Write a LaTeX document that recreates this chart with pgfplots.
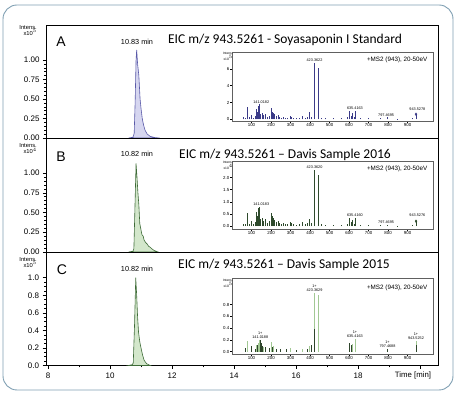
\documentclass[border=0pt]{standalone}
\usepackage{fontspec}
\setmainfont{Liberation Sans}
\newfontfamily\carlito{Carlito}
\usepackage{pgfplots}
\pgfplotsset{compat=1.18}
\definecolor{aline}{HTML}{5A5AA8}
\definecolor{afill}{HTML}{D6D6F0}
\definecolor{gline}{HTML}{3E6B38}
\definecolor{gfill}{HTML}{D3E7CB}
\definecolor{abar}{HTML}{3B3B88}
\definecolor{bbar}{HTML}{2E4A2C}
\definecolor{clight}{HTML}{A2C894}
\definecolor{cdark}{HTML}{2F452C}
\definecolor{bordercol}{HTML}{7F9FB2}
\newcommand{\ttl}{\carlito\fontsize{13.5}{15}\selectfont}
\tikzset{lbl/.style={font=\fontsize{3.8}{4.2}\selectfont, align=center, inner sep=0.5pt}}
\pgfplotsset{
  mainax/.style={scale only axis, width=392pt, anchor=south west,
    xmin=7.935, xmax=20.58, ymin=0,
    axis line style={line width=0.9pt},
    every tick/.style={black, line width=0.45pt},
    tick align=outside, ytick pos=left, xtick pos=bottom,
    major tick length=3pt, minor tick length=1.6pt,
    /pgf/number format/assume math mode=true,
    yticklabel style={font=\fontsize{8}{9}\selectfont},
    xticklabel style={font=\fontsize{8}{9}\selectfont},
  },
  inset/.style={scale only axis, width=201pt, anchor=south west,
    xmin=0, xmax=1030,
    axis background/.style={fill=white},
    axis line style={draw=gray!75!black, line width=0.6pt},
    every tick/.style={black, line width=0.35pt},
    tick align=outside, ytick pos=left, xtick pos=bottom,
    major tick length=1.6pt, minor tick length=0.9pt,
    xtick={100,200,...,900}, minor x tick num=4,
    /pgf/number format/assume math mode=true,
    yticklabel style={font=\fontsize{4.4}{5}\selectfont, inner sep=1pt},
    xticklabel style={font=\fontsize{4.4}{5}\selectfont, inner sep=1pt},
  },
}
\begin{document}
\begin{tikzpicture}[x=1pt,y=1pt]
\useasboundingbox (0,0) rectangle (459,395);
\draw[color=bordercol, line width=0.9pt, rounded corners=14pt] (3,5) rectangle (453,390);

% ---------- Panel A ----------
\begin{axis}[mainax, at={(46pt,257pt)}, height=113pt, ymax=1.449,
  xtick=\empty, ytick={0,0.25,0.5,0.75,1}, minor y tick num=4,
  yticklabel style={/pgf/number format/.cd, fixed, fixed zerofill, precision=2}]
\addplot[draw=aline, fill=afill, line width=0.6pt] table {
10.60 0
10.74 0.01
10.78 0.06
10.81 0.45
10.84 1.0
10.86 1.13
10.89 0.95
10.93 0.80
10.97 0.50
11.00 0.38
11.04 0.25
11.08 0.17
11.13 0.10
11.20 0.05
11.30 0.02
11.45 0.005
11.60 0
} \closedcycle;
\end{axis}

% ---------- Panel B ----------
\begin{axis}[mainax, at={(46pt,143pt)}, height=114pt, ymax=1.443,
  xtick=\empty, ytick={0,0.25,0.5,0.75,1}, minor y tick num=4,
  yticklabel style={/pgf/number format/.cd, fixed, fixed zerofill, precision=2}]
\addplot[draw=gline, fill=gfill, line width=0.6pt] table {
10.60 0
10.74 0.01
10.77 0.04
10.80 0.50
10.84 1.12
10.87 0.95
10.90 0.75
10.93 0.60
10.96 0.36
11.00 0.28
11.03 0.22
11.07 0.20
11.10 0.15
11.15 0.12
11.20 0.10
11.25 0.07
11.30 0.06
11.35 0.04
11.42 0.02
11.55 0
} \closedcycle;
\end{axis}

% ---------- Panel C ----------
\begin{axis}[mainax, at={(46pt,29.5pt)}, height=113.5pt, ymax=1.293,
  xtick={8,10,...,20}, xticklabels={8,10,12,14,16,18,},
  minor xtick={9,11,...,19}, major tick length=3.5pt, minor tick length=2pt,
  ytick={0,0.2,0.4,0.6,0.8,1.0}, minor y tick num=3,
  yticklabel style={/pgf/number format/.cd, fixed, fixed zerofill, precision=1}]
\addplot[draw=gline, fill=gfill, line width=0.6pt] table {
10.60 0
10.72 0.01
10.75 0.03
10.79 0.45
10.83 1.00
10.86 0.80
10.89 0.55
10.92 0.38
10.96 0.27
11.00 0.20
11.05 0.12
11.10 0.06
11.18 0.02
11.30 0
} \closedcycle;
\end{axis}

% ---------- Inset A ----------
\begin{axis}[inset, at={(232pt,274pt)}, height=69pt, ymin=-0.2, ymax=8.0,
  ytick={0,2,4,6}]
\addplot[ycomb, draw=abar, line width=0.9pt, mark=none] table {
60 0.3
70 0.2
78 1.5
90 0.3
100 0.5
110 0.2
118 0.4
125 1.2
132 0.9
137 1.6
142 1.8
148 0.6
155 0.8
163 0.5
173 0.6
180 0.3
190 0.4
202 1.3
208 0.9
213 0.8
220 0.6
228 0.4
236 0.5
245 0.3
255 0.2
265 0.3
275 0.2
285 0.15
298 0.4
305 0.3
315 0.2
330 0.15
345 0.2
360 0.4
375 0.2
385 0.3
397 0.9
405 0.3
423 6.75
441 6.15
460 0.2
480 0.15
520 0.1
560 0.1
590 0.3
600 1.0
610 0.4
617 0.8
627 0.3
635 1.0
660 0.15
700 0.1
760 0.1
797 0.25
850 0.05
925 0.1
943 0.6
};
\addplot[only marks, mark=diamond*, mark size=1.3pt, color=abar] coordinates {(943,0.6)};
\node[lbl, anchor=south] at (axis cs:423,6.8) {423.3622};
\node[lbl, anchor=south] at (axis cs:150,1.85) {141.0182};
\node[lbl, anchor=south] at (axis cs:630,1.05) {635.4163};
\node[lbl, anchor=south] at (axis cs:790,0.25) {797.4695};
\node[lbl, anchor=south] at (axis cs:950,0.9) {943.5278};
\node[font=\fontsize{6.3}{7}\selectfont, anchor=north east] at (rel axis cs:0.99,0.98) {+MS2 (943), 20-50eV};
\node[font=\fontsize{4.4}{5}\selectfont, anchor=north, inner sep=1pt] at (axis cs:985,-0.2) {m/z};
\end{axis}
\node[font=\fontsize{3.3}{3.6}\selectfont, align=right, anchor=north east, inner sep=0pt] at (233,343) {Intens.\\x10$^5$};

% ---------- Inset B ----------
\begin{axis}[inset, at={(232pt,166pt)}, height=68pt, ymin=-0.12, ymax=2.68,
  ytick={0,0.5,1.0,1.5,2.0},
  yticklabel style={/pgf/number format/.cd, fixed, fixed zerofill, precision=1}]
\addplot[ycomb, draw=bbar, line width=0.9pt, mark=none] table {
60 0.1
70 0.08
78 0.52
90 0.1
100 0.2
110 0.08
118 0.15
125 0.6
132 0.4
137 0.75
142 0.8
148 0.3
155 0.35
163 0.2
173 0.3
180 0.12
190 0.2
202 0.55
208 0.4
213 0.35
220 0.25
228 0.18
236 0.2
245 0.12
255 0.1
265 0.12
275 0.08
285 0.07
298 0.18
305 0.12
315 0.08
330 0.06
345 0.08
360 0.15
375 0.08
385 0.12
397 0.3
405 0.12
423 2.30
441 2.09
460 0.08
480 0.05
520 0.04
560 0.04
590 0.1
600 0.35
610 0.15
617 0.25
627 0.1
635 0.35
660 0.05
700 0.04
760 0.03
797 0.06
850 0.02
925 0.03
943 0.2
};
\addplot[only marks, mark=diamond*, mark size=1.3pt, color=bbar] coordinates {(943,0.2)};
\node[lbl, anchor=south] at (axis cs:423,2.32) {423.3620};
\node[lbl, anchor=south] at (axis cs:150,0.83) {141.0183};
\node[lbl, anchor=south] at (axis cs:630,0.37) {635.4160};
\node[lbl, anchor=south] at (axis cs:790,0.08) {797.4695};
\node[lbl, anchor=south] at (axis cs:950,0.38) {943.5276};
\node[font=\fontsize{6.3}{7}\selectfont, anchor=north east] at (rel axis cs:0.99,0.98) {+MS2 (943), 20-50eV};
\node[font=\fontsize{4.4}{5}\selectfont, anchor=north, inner sep=1pt] at (axis cs:985,-0.12) {m/z};
\end{axis}
\node[font=\fontsize{3.3}{3.6}\selectfont, align=right, anchor=north east, inner sep=0pt] at (233,234) {Intens.\\x10$^4$};

% ---------- Inset C ----------
\begin{axis}[inset, at={(232pt,41pt)}, height=76pt, ymin=-0.04, ymax=1.25,
  ytick={0,0.2,0.4,0.6,0.8},
  yticklabel style={/pgf/number format/.cd, fixed, fixed zerofill, precision=1}]
\addplot[ycomb, draw=clight, line width=1.0pt, mark=none] table {
78 0.18
125 0.12
137 0.15
142 0.2
160 0.08
202 0.16
213 0.1
300 0.06
360 0.05
397 0.1
423 1.0
441 0.96
600 0.12
617 0.13
635 0.22
943 0.18
};
\addplot[ycomb, draw=cdark, line width=0.8pt, mark=none] table {
70 0.06
100 0.1
118 0.05
132 0.12
145 0.2
150 0.15
155 0.1
173 0.08
190 0.06
208 0.08
228 0.05
250 0.04
280 0.04
330 0.03
385 0.04
405 0.12
423 0.38
600 0.15
610 0.12
797 0.05
943 0.12
};
\node[lbl, anchor=south] at (axis cs:423,1.0) {1+\\423.3629};
\node[lbl, anchor=south] at (axis cs:145,0.21) {1+\\141.0188};
\node[lbl, anchor=south] at (axis cs:630,0.23) {1+\\635.4163};
\node[lbl, anchor=south] at (axis cs:797,0.06) {1+\\797.4688};
\node[lbl, anchor=south] at (axis cs:943,0.19) {1+\\943.5252};
\node[font=\fontsize{6.3}{7}\selectfont, anchor=north east] at (rel axis cs:0.99,0.96) {+MS2 (943), 20-50eV};
\node[font=\fontsize{4.4}{5}\selectfont, anchor=north, inner sep=1pt] at (axis cs:985,-0.04) {m/z};
\end{axis}
\node[font=\fontsize{3.3}{3.6}\selectfont, align=right, anchor=north east, inner sep=0pt] at (233,116) {Intens.\\x10$^5$};

% ---------- Main labels ----------
\node[font=\fontsize{5.8}{6.3}\selectfont, align=right, anchor=north east, inner sep=0pt] at (37,370) {Intens.\\x10$^5$};
\node[font=\fontsize{5.8}{6.3}\selectfont, align=right, anchor=north east, inner sep=0pt] at (37,251.5) {Intens.\\x10$^4$};
\node[font=\fontsize{5.8}{6.3}\selectfont, align=right, anchor=north east, inner sep=0pt] at (37,138) {Intens.\\x10$^5$};

\node[font=\fontsize{14}{15}\selectfont] at (61,353) {A};
\node[font=\fontsize{14}{15}\selectfont] at (61,238) {B};
\node[font=\fontsize{14}{15}\selectfont] at (62,125) {C};

\node[font=\fontsize{7.3}{8}\selectfont] at (137,353) {10.83 min};
\node[font=\fontsize{7.3}{8}\selectfont] at (137,241) {10.82 min};
\node[font=\fontsize{7.3}{8}\selectfont] at (137,126) {10.82 min};

\node[font=\ttl] at (285,355) {EIC m/z 943.5261 - Soyasaponin I Standard};
\node[font=\ttl] at (285,240) {EIC m/z 943.5261 – Davis Sample 2016};
\node[font=\ttl] at (284,130) {EIC m/z 943.5261 – Davis Sample 2015};

\node[font=\fontsize{7.8}{9}\selectfont] at (413,20) {Time [min]};
\end{tikzpicture}
\end{document}
